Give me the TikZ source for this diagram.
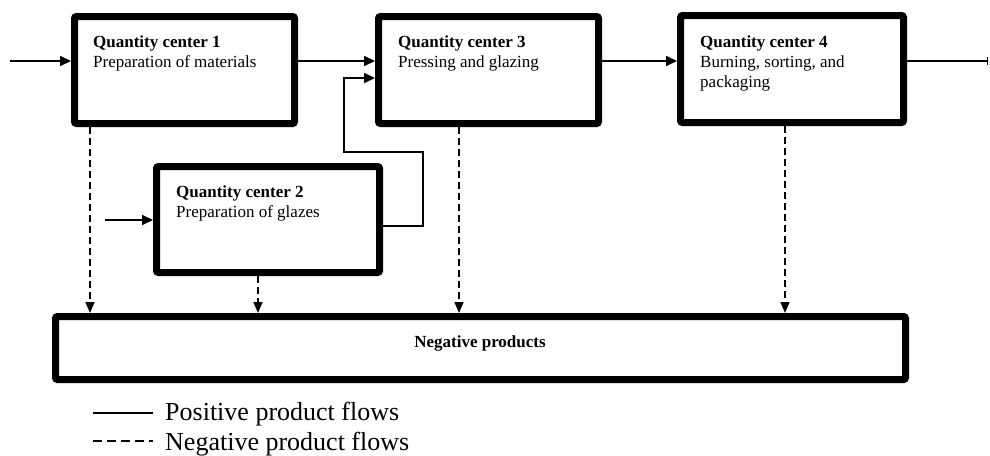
\documentclass[tikz,border=0pt]{standalone}
\usepackage{fontspec}
\setmainfont{Liberation Serif}
\usetikzlibrary{arrows.meta}
\begin{document}
\begin{tikzpicture}[x=1pt,y=-1pt,
  box/.style={draw, line width=7pt, rounded corners=2pt, fill=white, inner sep=0pt},
  flow/.style={line width=2pt, -{Triangle[length=11pt,width=10pt]}},
  negflow/.style={line width=1.5pt, dash pattern=on 7pt off 4pt, -{Triangle[length=11pt,width=9pt]}},
  lbl/.style={inner sep=0pt, anchor=base west, font=\fontsize{17}{20}\selectfont},
  ttl/.style={inner sep=0pt, anchor=base west, font=\fontsize{17}{20}\selectfont\bfseries},
  leg/.style={inner sep=0pt, anchor=base west, font=\fontsize{26}{29}\selectfont}]
\useasboundingbox (0,0) rectangle (990,455);

% boxes
\node[box, minimum width=220pt, minimum height=107pt] (qc1) at (184.5,70) {};
\node[box, minimum width=220pt, minimum height=107pt] (qc3) at (488.5,70) {};
\node[box, minimum width=223pt, minimum height=107pt] (qc4) at (792,69) {};
\node[box, minimum width=223pt, minimum height=106pt] (qc2) at (268,219.5) {};
\node[box, minimum width=850pt, minimum height=63pt] (neg) at (480.5,348) {};

% texts
\node[ttl] (t1a) at (93,47) {Quantity center 1};
\node[lbl] (t1b) at (93,67) {Preparation of materials};
\node[ttl] (t3a) at (398,47) {Quantity center 3};
\node[lbl] (t3b) at (398,67) {Pressing and glazing};
\node[ttl] (t4a) at (700,47) {Quantity center 4};
\node[lbl] (t4b) at (700,67) {Burning, sorting, and};
\node[lbl] (t4c) at (700,87) {packaging};
\node[ttl] (t2a) at (176,197) {Quantity center 2};
\node[lbl] (t2b) at (176,217) {Preparation of glazes};
\node[ttl, anchor=base] (tn) at (480,347) {Negative products};

% positive flows
\coordinate (in1) at (10,61);
\coordinate (in2) at (105,220);
\coordinate (out4) at (988,61);
\coordinate (fb1) at (423,226);
\coordinate (fb2) at (423,152);
\coordinate (fb3) at (344,152);
\coordinate (fb4) at (344,78);
\draw[flow] (in1) -- (qc1.west |- in1);
\draw[flow] (qc1.east |- in1) -- (qc3.west |- in1);
\draw[flow] (qc3.east |- in1) -- (qc4.west |- in1);
\draw[line width=2pt, -{Bar[width=8pt,line width=1.5pt]}] (qc4.east |- out4) -- (out4);
\draw[flow] (in2) -- (qc2.west |- in2);
\draw[flow] (qc2.east |- fb1) -- (fb1) -- (fb2) -- (fb3) -- (fb4) -- (qc3.west |- fb4);

% negative flows
\coordinate (d1) at (90,0);
\coordinate (d2) at (258,0);
\coordinate (d3) at (459,0);
\coordinate (d4) at (785,0);
\draw[negflow] (qc1.south -| d1) -- (neg.north -| d1);
\draw[negflow] (qc2.south -| d2) -- (neg.north -| d2);
\draw[negflow] (qc3.south -| d3) -- (neg.north -| d3);
\draw[negflow] (qc4.south -| d4) -- (neg.north -| d4);

% legend
\coordinate (l1a) at (93,413);
\coordinate (l1b) at (153,413);
\coordinate (l2a) at (93,441);
\coordinate (l2b) at (153,441);
\draw[line width=2pt] (l1a) -- (l1b);
\draw[line width=1.5pt, dash pattern=on 9pt off 5pt] (l2a) -- (l2b);
\node[leg] (lg1) at (165,420) {Positive product flows};
\node[leg] (lg2) at (165,450) {Negative product flows};
\end{tikzpicture}
\end{document}
